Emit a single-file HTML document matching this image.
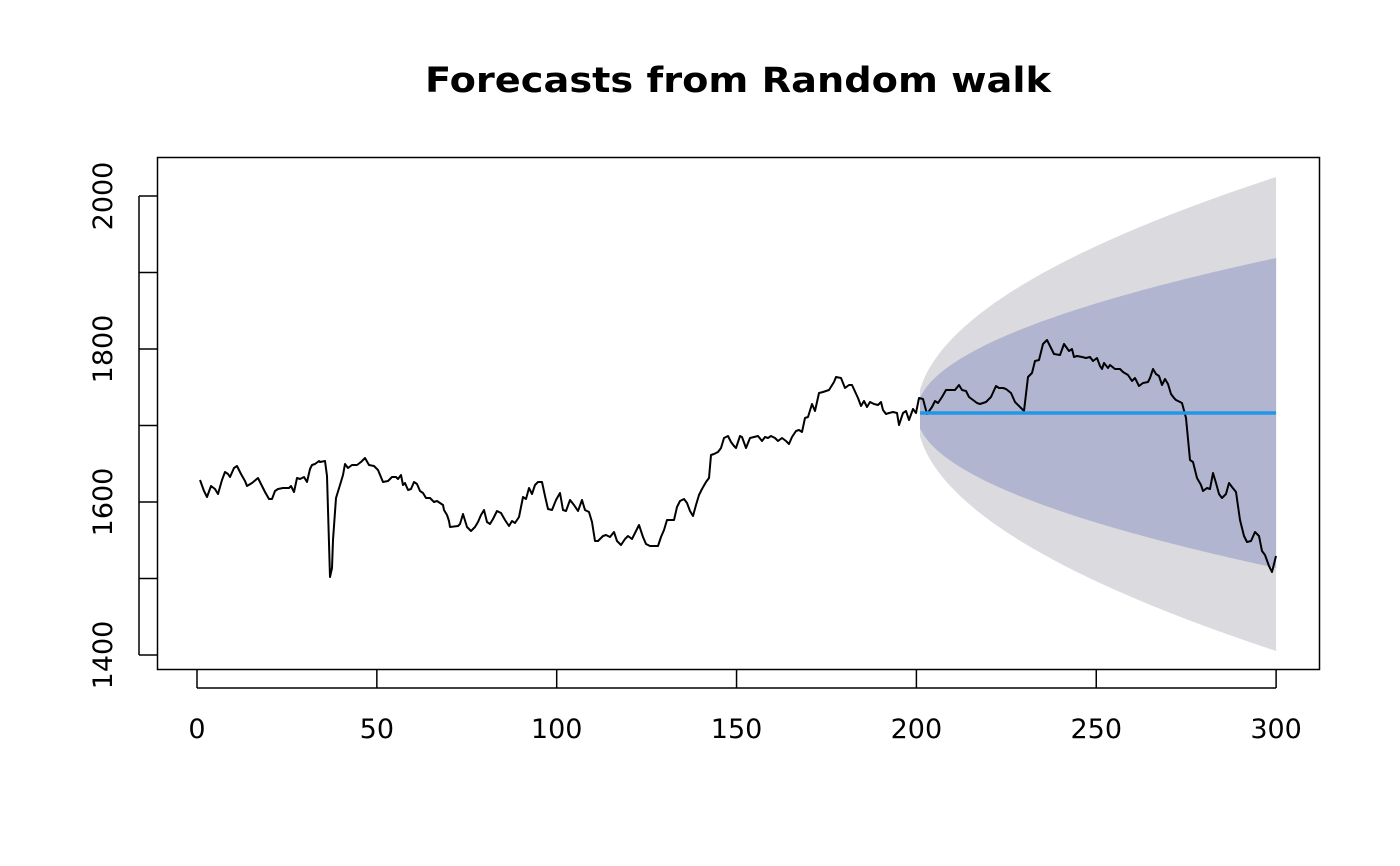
<!DOCTYPE html>
<html><head><style>body{margin:0;background:#fff}svg{display:block}text{font-family:"DejaVu Sans","Liberation Sans",sans-serif}</style></head>
<body>
<svg id="s" width="1400" height="866" viewBox="0 0 1400 866" xmlns="http://www.w3.org/2000/svg">
<rect width="1400" height="866" fill="#fff"/>
<text x="738" y="92" font-size="35" font-weight="bold" text-anchor="middle" textLength="626" lengthAdjust="spacingAndGlyphs">Forecasts from Random walk</text>
<path id="outer" fill="#dbdbdf"/>
<path id="inner" fill="#b1b5d0"/>
<polyline fill="none" stroke="#000" stroke-width="2" stroke-linejoin="round" points="200,480 204,491 207,497 211,486 215,489 218,494 222,480 225,472 228,474 230,477 234,468 237,466 241,474 245,481 247,486 252,483 258,478 262,486 265,492 269,499 272,499 275,491 278,489 283,488 289,488 291,486 294,492 297,478 300,479 304,477 307,482 310,469 312,465 315,464 319,461 320,462 325,461 327,476 330,577 332,568 333,540 336,498 340,485 343,475 345,464 348,468 352,465 357,465 361,462 365,458 369,465 374,466 378,470 383,482 388,481 392,477 396,477 398,479 401,475 403,485 405,483 408,490 411,489 414,482 417,484 420,491 423,493 426,498 430,498 434,502 437,501 440,503 443,505 444,510 447,515 449,521 450,527 458,526 460,524 463,514 467,527 471,531 475,527 478,522 481,515 484,510 487,522 490,524 493,519 497,511 501,513 505,520 509,526 512,521 515,523 519,517 523,497 526,499 529,488 532,494 535,485 538,482 542,482 545,496 548,509 552,510 556,500 560,493 563,510 566,511 570,500 574,505 578,511 582,500 585,510 589,512 592,522 595,541 598,541 603,536 606,535 610,537 614,532 617,541 621,545 625,539 628,536 632,539 636,531 639,525 643,537 646,544 650,546 654,546 658,546 661,537 664,530 667,520 669,520 674,520 677,507 680,501 684,499 687,503 690,511 693,516 696,505 699,495 702,489 706,482 709,478 711,455 714,454 718,452 721,448 724,438 728,436 731,442 734,446 736,448 740,436 742,437 746,448 750,438 754,437 758,436 762,441 765,437 768,438 771,436 775,438 778,441 782,438 786,441 789,444 792,437 796,431 799,430 802,432 805,418 808,417 812,404 815,411 819,393 823,392 829,390 834,382 836,377 841,378 843,383 845,388 849,385 852,385 858,398 861,406 864,401 867,407 870,402 874,404 878,405 881,402 883,410 886,414 889,413 893,412 897,413 899,425 903,413 906,411 909,420 913,409 916,413 919,398 923,399 927,414 932,407 935,401 938,403 942,397 946,390 950,390 955,390 959,385 962,390 966,391 969,397 977,403 980,404 986,402 991,397 996,386 999,388 1003,388 1006,389 1011,393 1015,402 1024,411 1028,377 1032,373 1035,361 1039,360 1043,344 1047,340 1050,346 1054,354 1060,355 1064,344 1069,351 1072,349 1074,357 1077,356 1082,357 1086,358 1090,357 1093,361 1097,358 1100,366 1102,369 1104,363 1108,368 1110,365 1115,369 1120,369 1123,372 1128,375 1132,381 1135,378 1139,386 1143,383 1148,382 1150,378 1153,369 1156,374 1159,376 1162,385 1165,379 1168,384 1171,394 1174,398 1176,400 1182,403 1186,418 1190,460 1193,462 1197,478 1201,485 1203,491 1207,488 1210,489 1213,473 1216,483 1219,494 1222,498 1226,494 1229,483 1232,487 1236,492 1240,520 1244,536 1247,542 1251,541 1255,532 1259,536 1262,551 1265,555 1269,566 1272,572 1276,556"/>
<line x1="920" y1="413" x2="1276" y2="413" stroke="#2297e6" stroke-width="3.5"/>
<rect x="157.5" y="157.5" width="1162" height="512" fill="none" stroke="#000" stroke-width="1.5"/>
<g stroke="#000" stroke-width="1.5" id="ticks"></g>
<g font-size="27" id="labs"></g>
</svg>
<script>
var ns="http://www.w3.org/2000/svg";
function pt(h,k){return [197+(200+h)*3.597,413]}
var o=[],i=[],ob=[],ib=[];
for(var h=1;h<=100;h++){var x=197+(200+h)*3.597;var s=Math.sqrt(h);
o.push(x+","+(413-23.6*s));ob.unshift(x+","+(413+23.8*s));
i.push(x+","+(413-15.5*s));ib.unshift(x+","+(413+15.5*s));}
document.getElementById("outer").setAttribute("d","M"+o.join(" L")+" L"+ob.join(" L")+"Z");
document.getElementById("inner").setAttribute("d","M"+i.join(" L")+" L"+ib.join(" L")+"Z");
var t=document.getElementById("ticks"),l=document.getElementById("labs");
function el(p,n,a,txt){var e=document.createElementNS(ns,n);for(var k in a)e.setAttribute(k,a[k]);if(txt)e.textContent=txt;p.appendChild(e);}
for(var v=0;v<=300;v+=50){var x=197+v*3.597;el(t,"line",{x1:x,y1:670,x2:x,y2:688});el(l,"text",{x:x,y:738,"text-anchor":"middle"},String(v));}
el(t,"line",{x1:197,y1:688,x2:1276,y2:688});
for(var v=1400;v<=2000;v+=100){var y=655-(v-1400)*0.765;el(t,"line",{x1:139,y1:y,x2:157,y2:y});
if(v%200==0)el(l,"text",{x:0,y:0,"text-anchor":"middle",transform:"translate(112,"+y+") rotate(-90)"},String(v));}
el(t,"line",{x1:139,y1:196,x2:139,y2:655});
</script>
</body></html>
